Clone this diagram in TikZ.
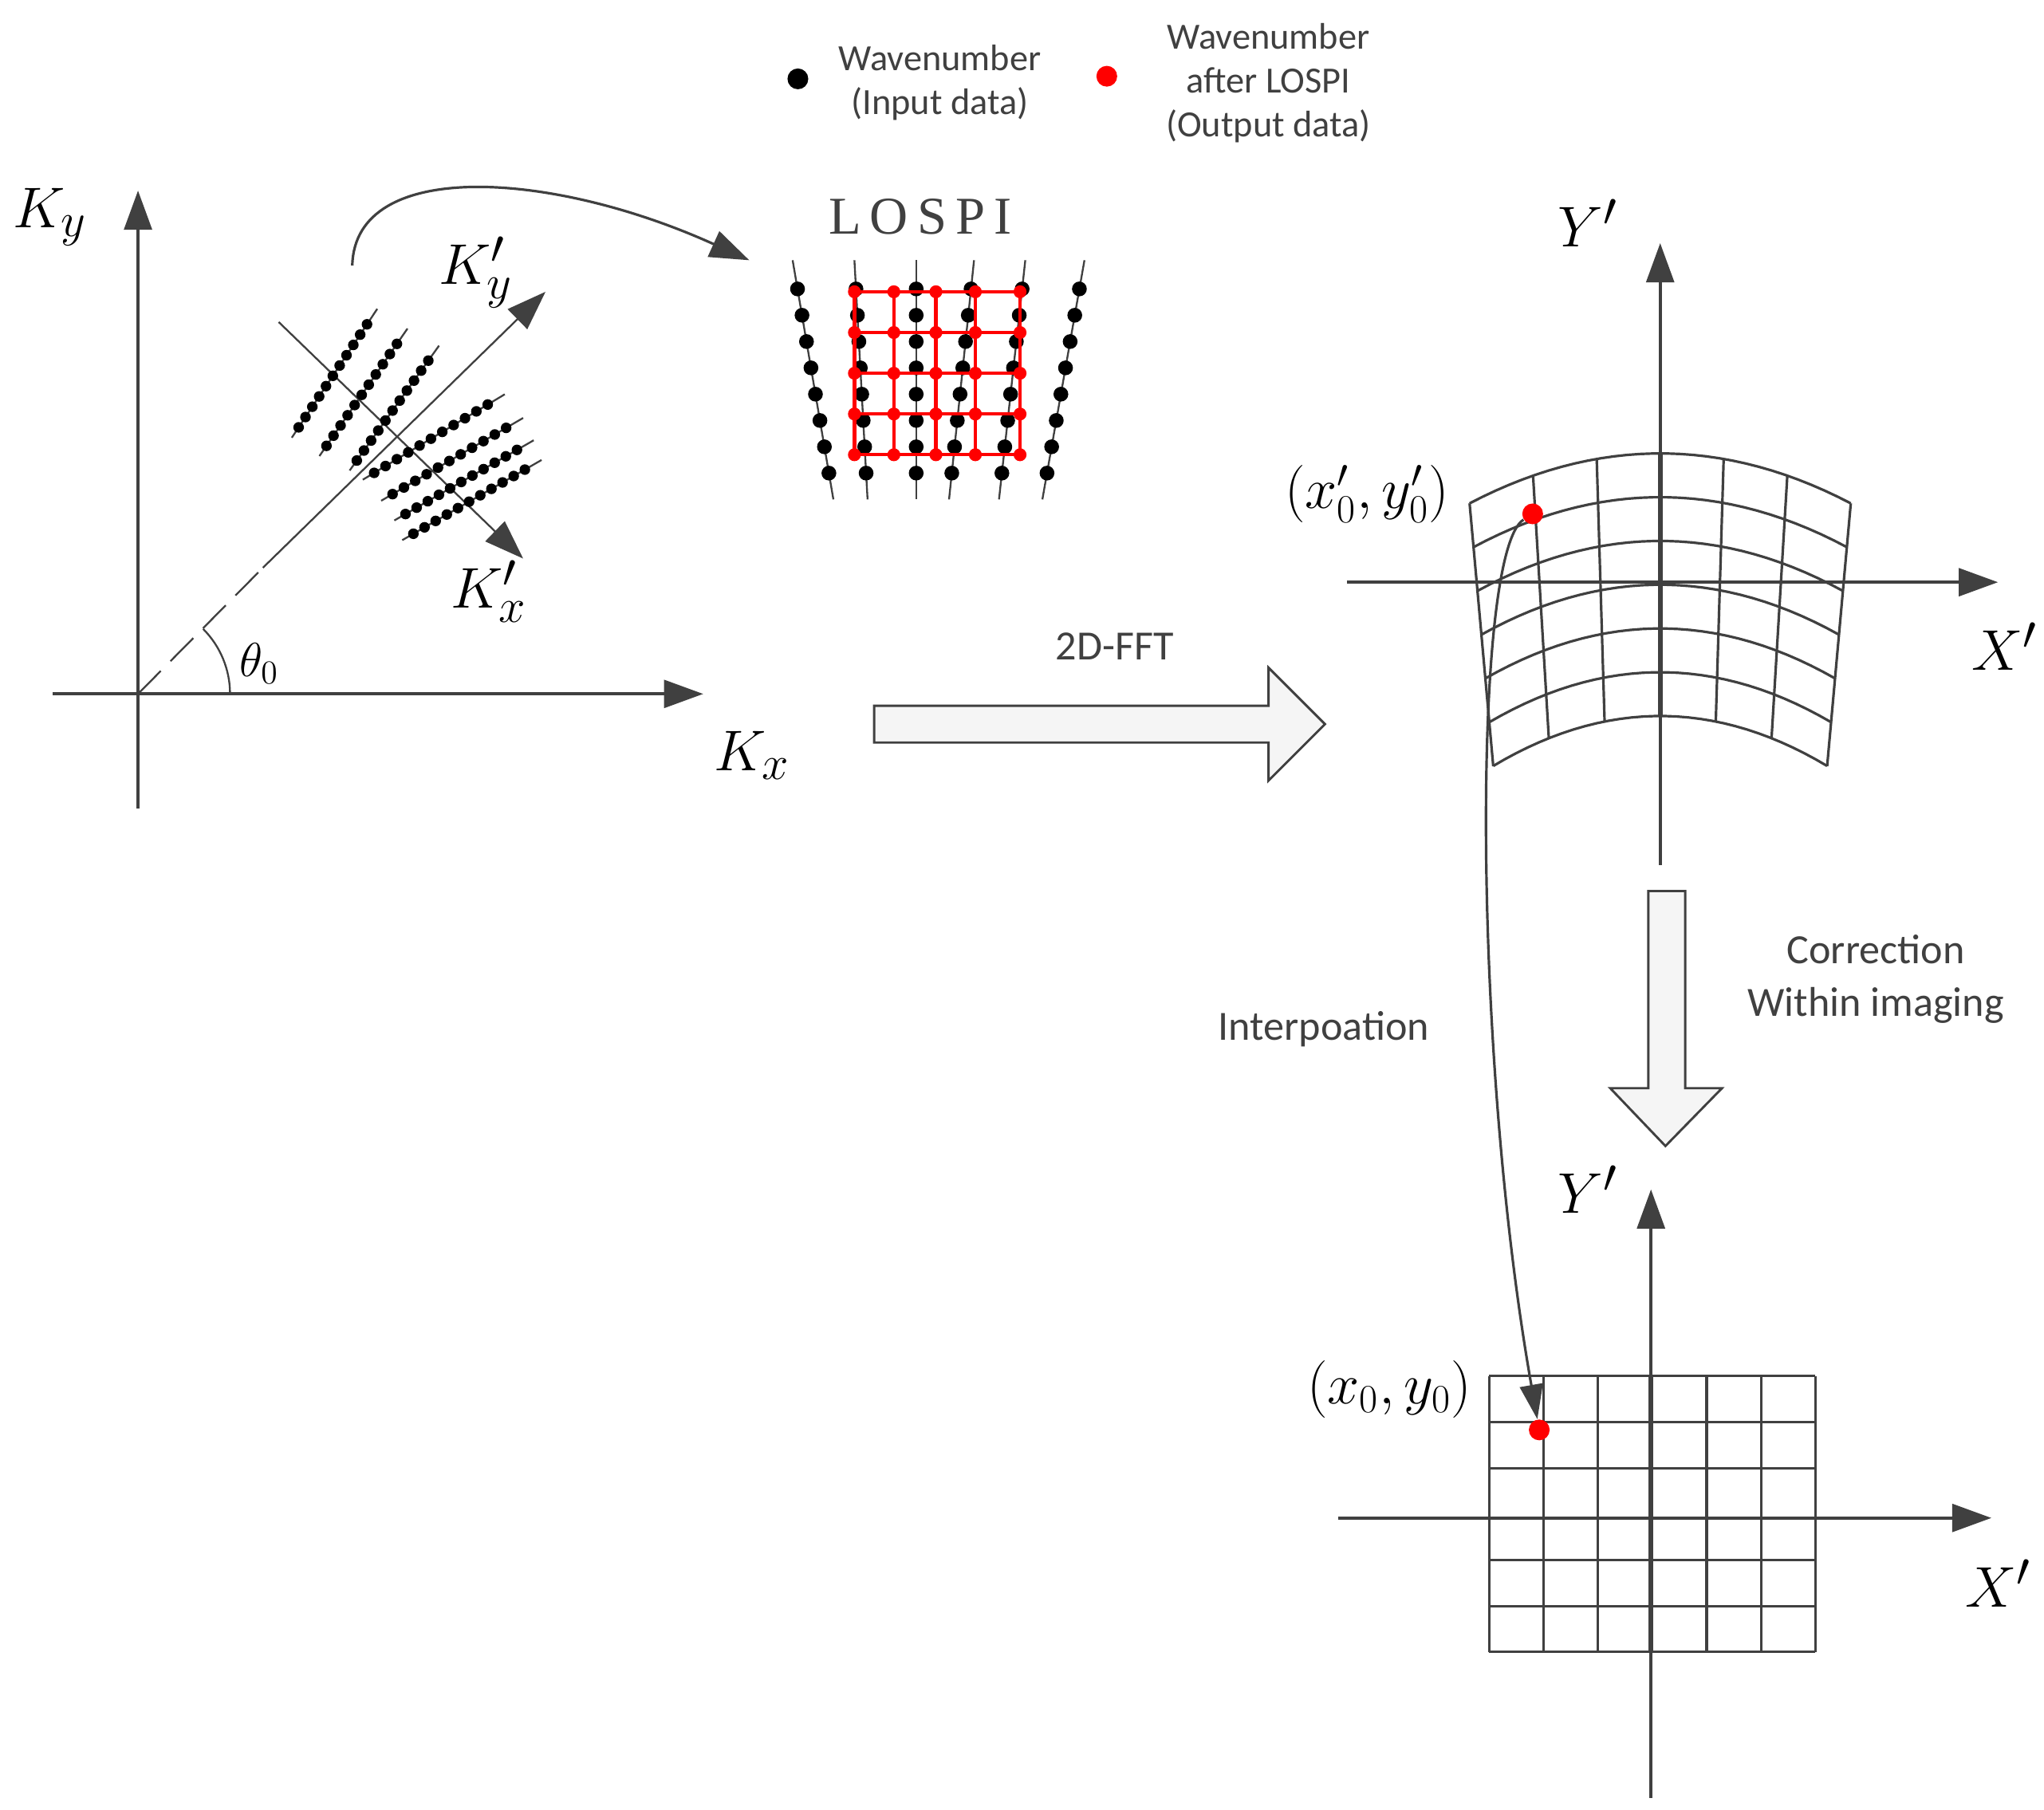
\documentclass[tikz,border=0pt]{standalone}
\usepackage{fontspec}
\setmainfont{Carlito}
\newfontfamily\serfam{Liberation Serif}
\usetikzlibrary{arrows.meta,calc}
\definecolor{ax}{HTML}{404040}
\begin{document}
\begin{tikzpicture}[x=0.02cm,y=-0.02cm,
  axis/.style={draw=ax,line width=1.4pt,-{Triangle[length=17pt,width=12pt]}},
  thin/.style={draw=ax,line width=0.8pt},
  grid/.style={draw=ax,line width=1.1pt},
  mlab/.style={font=\fontsize{28}{30}\selectfont},
  slab/.style={font=\fontsize{16}{19}\selectfont,align=center,text=ax},
  rdot/.style={circle,fill=red,inner sep=0pt,minimum size=9pt},
  barrow/.style={draw=ax,fill=gray!8,line width=1pt}]
\useasboundingbox (0,0) rectangle (1555,1377);
% legend
\node[circle,fill=black,inner sep=0pt,minimum size=9pt] (lb) at (607,60) {};
\node[slab] (lbt) at (715,63) {Wavenumber\\(Input data)};
\node[rdot] (lr) at (842,58) {};
\node[slab] (lrt) at (965,63) {Wavenumber\\after LOSPI\\(Output data)};
% left axes
\coordinate (O) at (105,528);
\coordinate (kyb) at (105,615); \coordinate (kyt) at (105,145);
\coordinate (kxl) at (40,528); \coordinate (kxr) at (535,528);
\draw[axis] (kyb) -- (kyt);
\draw[axis] (kxl) -- (kxr);
\node[mlab] (Ky) at (38,165) {$K_y$};
\node[mlab] (Kx) at (572,575) {$K_x$};
\coordinate (d1) at (200,432); \coordinate (kyp) at (415,222);
\draw[thin,dash pattern=on 14pt off 6pt] (O) -- (d1);
\draw[thin,-{Triangle[length=17pt,width=12pt]},fill=ax] (d1) -- (kyp);
\coordinate (p1) at (212,245); \coordinate (kxp) at (398,425);
\draw[thin,-{Triangle[length=17pt,width=12pt]}] (p1) -- (kxp);
\node[mlab] (Kyp) at (362,207) {$K'_y$};
\node[mlab] (Kxp) at (372,450) {$K'_x$};
\draw[thin] (175,528) arc (0:-45:70);
\node[font=\fontsize{22}{24}\selectfont] (th) at (197,505) {$\theta_0$};
% dot lines
\foreach \a/\b/\c/\d in {222/333/287/235, 243/347/310/250, 266/358/334/263,
   276/365/384/300, 290/381/398/318, 300/396/406/335, 306/411/412/350}{
  \draw[thin] (\a,\b) -- (\c,\d);
  \foreach \t in {0.08,0.16,...,0.93}{\fill ($(\a,\b)!\t!(\c,\d)$) circle (2.3pt);}
}
% curved arrow
\coordinate (ca) at (268,202); \coordinate (cb) at (570,198);
\draw[thin,line width=1.1pt,-{Triangle[length=17pt,width=12pt]}] (ca) .. controls (270,120) and (420,130) .. (cb);
% LOSPI
\node[font=\fontsize{23}{25}\selectfont\serfam,text=ax] (lospi) at (700,165) {L\,O\,S\,P\,I};
\foreach \xt/\xb in {603/634, 650/660, 697/697, 741/722, 780/760, 825/793}{
  \draw[thin] (\xt,198) -- (\xb,380);
  \foreach \t in {0.12,0.23,...,0.95}{\fill ($(\xt,198)!\t!(\xb,380)$) circle (3.2pt);}
}
\foreach \y in {222,253,284,315,346}{\draw[red,line width=1.5pt] (650,\y) -- (776,\y);}
\foreach \x in {650,680,712,742,776}{\draw[red,line width=1.5pt] (\x,222) -- (\x,346);
  \foreach \y in {222,253,284,315,346}{\fill[red] (\x,\y) circle (2.8pt);}}
% 2D-FFT arrow
\draw[barrow] (665,537) -- (965,537) -- (965,508) -- (1008,551) -- (965,594) -- (965,565) -- (665,565) -- cycle;
\node[slab,font=\fontsize{18}{20}\selectfont] (fftl) at (848,492) {2D-FFT};
% right top axes
\draw[axis] (1263,658) -- (1263,185);
\draw[axis] (1025,443) -- (1520,443);
\node[mlab] (Y1) at (1208,170) {$Y'$};
\node[mlab] (X1) at (1525,492) {$X'$};
\foreach \r in {0,...,6}{
  \draw[grid] plot[domain=-1:1,samples=30,variable=\u] ({1263+\u*(145-3*\r)},{345+33.3*\r+38*\u*\u});}
\foreach \u in {-1,-0.667,-0.333,0.333,0.667,1}{
  \draw[grid] ({1263+\u*145},{345+38*\u*\u}) -- ({1263+\u*127},{545+38*\u*\u});}
\draw[draw=ax,line width=2pt] (1263,345) -- (1263,545);
\node[rdot] (r1) at (1166,391) {};
\node[mlab,font=\fontsize{24}{26}\selectfont] (l1) at (1040,376) {$(x'_0,y'_0)$};
% correction arrow
\draw[barrow] (1254,678) -- (1282,678) -- (1282,828) -- (1310,828) -- (1267,872) -- (1225,828) -- (1254,828) -- cycle;
\node[slab,font=\fontsize{18}{23}\selectfont] (corrl) at (1427,745) {Correction\\Within imaging};
\node[slab,font=\fontsize{18}{20}\selectfont] (interl) at (1007,783) {Interpoation};
% bottom axes
\draw[axis] (1256,1368) -- (1256,905);
\draw[axis] (1018,1155) -- (1515,1155);
\node[mlab] (Y2) at (1208,905) {$Y'$};
\node[mlab] (X2) at (1520,1205) {$X'$};
\foreach \x in {1133,1174.3,1215.7,1298.3,1339.7,1381}{\draw[grid] (\x,1047) -- (\x,1257);}
\foreach \y in {1047,1082,1117,1187,1222,1257}{\draw[grid] (1133,\y) -- (1381,\y);}
\draw[draw=ax,line width=2pt] (1256,1047) -- (1256,1257);
\node[rdot] (r2) at (1171,1088) {};
\node[mlab,font=\fontsize{24}{26}\selectfont] (l2) at (1057,1057) {$(x_0,y_0)$};
% interpolation curve
\draw[thin,line width=1.1pt,-{Triangle[length=15pt,width=10pt]}] (r1) .. controls (1120,420) and (1120,800) .. (r2);
\end{tikzpicture}
\end{document}
